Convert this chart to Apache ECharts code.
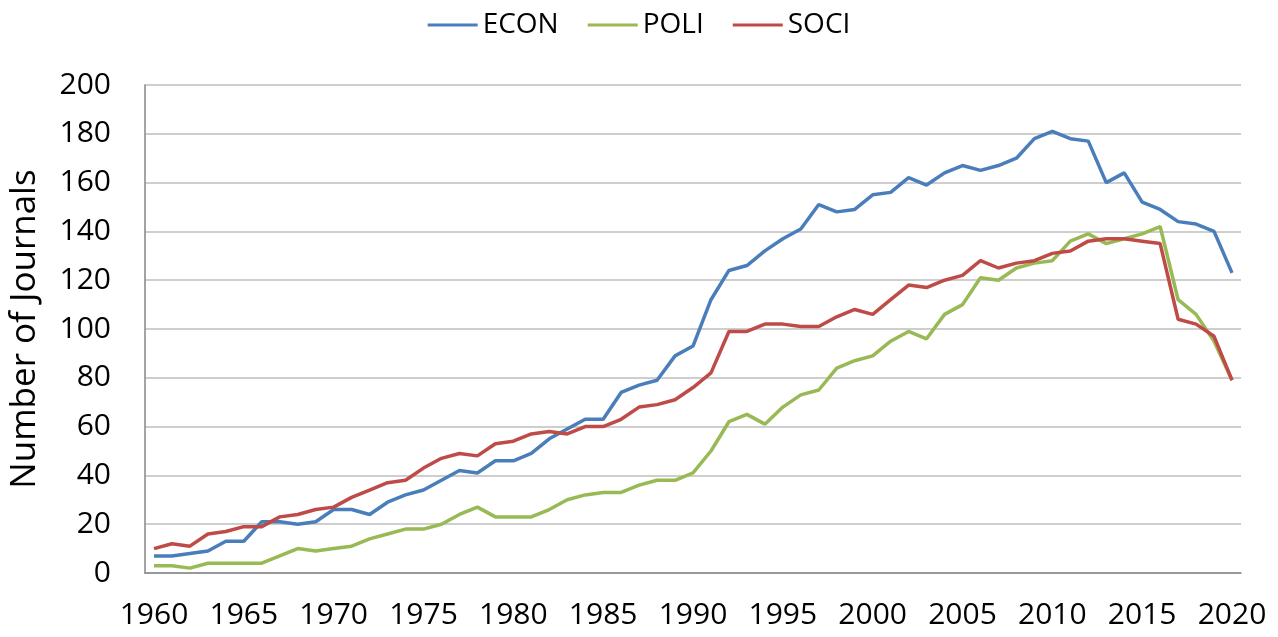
<!DOCTYPE html>
<html>
<head>
<meta charset="utf-8">
<script src="https://cdn.jsdelivr.net/npm/echarts@6/dist/echarts.min.js"></script>
<style>
  html, body { margin: 0; padding: 0; background: #fff; }
  #main { width: 1278px; height: 637px; }
</style>
</head>
<body>
<div id="main"></div>
<script>
// 年份 1960-2020
var years = [];
for (var y = 1960; y <= 2020; y++) { years.push(String(y)); }

// 各学科期刊数量
var econ = [7, 7, 8, 9, 13, 13, 21, 21, 20, 21,
            26, 26, 24, 29, 32, 34, 38, 42, 41, 46,
            46, 49, 55, 59, 63, 63, 74, 77, 79, 89,
            93, 112, 124, 126, 132, 137, 141, 151, 148, 149,
            155, 156, 162, 159, 164, 167, 165, 167, 170, 178,
            181, 178, 177, 160, 164, 152, 149, 144, 143, 140,
            123];
var poli = [3, 3, 2, 4, 4, 4, 4, 7, 10, 9,
            10, 11, 14, 16, 18, 18, 20, 24, 27, 23,
            23, 23, 26, 30, 32, 33, 33, 36, 38, 38,
            41, 50, 62, 65, 61, 68, 73, 75, 84, 87,
            89, 95, 99, 96, 106, 110, 121, 120, 125, 127,
            128, 136, 139, 135, 137, 139, 142, 112, 106, 95,
            79];
var soci = [10, 12, 11, 16, 17, 19, 19, 23, 24, 26,
            27, 31, 34, 37, 38, 43, 47, 49, 48, 53,
            54, 57, 58, 57, 60, 60, 63, 68, 69, 71,
            76, 82, 99, 99, 102, 102, 101, 101, 105, 108,
            106, 112, 118, 117, 120, 122, 128, 125, 127, 128,
            131, 132, 136, 137, 137, 136, 135, 104, 102, 97,
            79];

var seriesNames = ['ECON', 'POLI', 'SOCI'];
var seriesColors = ['#4A7EBB', '#98B954', '#BE4B48'];
var seriesData = [econ, poli, soci];

var font = '"Open Sans", "DejaVu Sans", sans-serif';
var myChart = echarts.init(document.getElementById('main'));

var series = [];
for (var i = 0; i < seriesNames.length; i++) {
    series.push({
        name: seriesNames[i],
        type: 'line',
        data: seriesData[i],
        symbol: 'none',
        smooth: false,
        color: seriesColors[i],
        lineStyle: { width: 3.5, color: seriesColors[i] }
    });
}

myChart.setOption({
    animation: false,
    textStyle: { fontFamily: font, color: '#000' },
    legend: {
        data: seriesNames,
        top: 6,
        left: 'center',
        icon: 'rect',
        itemWidth: 50,
        itemHeight: 3,
        itemGap: 29,
        textStyle: { fontSize: 28, fontFamily: font, color: '#000' }
    },
    grid: { left: 145, right: 37, top: 85, bottom: 64, containLabel: false },
    xAxis: {
        type: 'category',
        data: years,
        boundaryGap: true,
        axisLine: { lineStyle: { color: '#868686', width: 1.5 } },
        axisTick: { show: false },
        axisLabel: { interval: 4, fontSize: 30, color: '#000', margin: 27, fontFamily: font }
    },
    yAxis: {
        type: 'value',
        min: 0,
        max: 200,
        interval: 20,
        name: 'Number of Journals',
        nameLocation: 'middle',
        nameGap: 102,
        nameTextStyle: { fontSize: 35, color: '#000', fontFamily: font },
        axisLine: { show: true, lineStyle: { color: '#868686', width: 1.5 } },
        axisTick: { show: false },
        splitLine: { lineStyle: { color: '#BEBEBE', width: 1.5 } },
        axisLabel: { fontSize: 30, color: '#000', margin: 34, fontFamily: font }
    },
    series: series
});
</script>
</body>
</html>
